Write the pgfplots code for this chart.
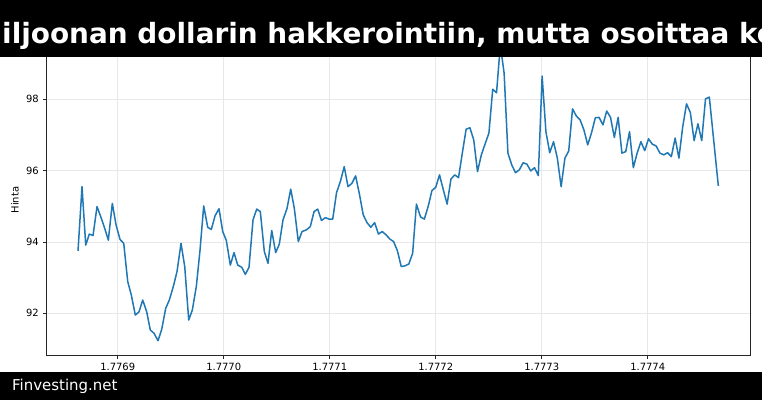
\documentclass[border=0pt]{standalone}
\usepackage{fontspec}
\setmainfont{DejaVu Sans}
\usepackage{pgfplots}
\usepackage{pgfplotstable}
\pgfplotsset{compat=1.18}
\definecolor{mplblue}{HTML}{1F77B4}
\definecolor{gridgray}{HTML}{E8E8E8}
\pgfplotstableread{
x y
-0.3745 93.75
-0.3368 95.55
-0.3019 93.91
-0.2679 94.22
-0.2330 94.18
-0.1953 94.99
-0.1604 94.71
-0.1226 94.38
-0.0887 94.05
-0.0509 95.08
-0.0160 94.48
0.0217 94.07
0.0566 93.96
0.0943 92.89
0.1283 92.51
0.1660 91.95
0.2009 92.04
0.2358 92.37
0.2736 92.04
0.3075 91.53
0.3425 91.44
0.3802 91.23
0.4151 91.55
0.4528 92.14
0.4868 92.37
0.5245 92.75
0.5594 93.17
0.5972 93.96
0.6321 93.31
0.6698 91.81
0.7038 92.09
0.7415 92.75
0.7764 93.77
0.8113 95.01
0.8491 94.41
0.8830 94.35
0.9179 94.73
0.9557 94.93
0.9906 94.29
1.0245 94.04
1.0623 93.35
1.0972 93.70
1.1321 93.35
1.1698 93.29
1.2038 93.09
1.2387 93.29
1.2764 94.62
1.3113 94.92
1.3453 94.85
1.3830 93.73
1.4179 93.40
1.4528 94.32
1.4906 93.70
1.5245 93.94
1.5594 94.62
1.5972 94.94
1.6321 95.48
1.6660 94.94
1.7038 94.01
1.7387 94.29
1.7811 94.34
1.8170 94.43
1.8519 94.85
1.8868 94.92
1.9226 94.60
1.9585 94.68
1.9934 94.64
2.0283 94.64
2.0642 95.38
2.1000 95.69
2.1368 96.11
2.1726 95.55
2.2085 95.64
2.2443 95.85
2.2802 95.34
2.3160 94.76
2.3519 94.54
2.3877 94.41
2.4236 94.54
2.4594 94.22
2.4953 94.29
2.5311 94.20
2.5670 94.08
2.6028 94.01
2.6387 93.75
2.6745 93.31
2.7104 93.33
2.7462 93.38
2.7821 93.68
2.8179 95.06
2.8566 94.70
2.8925 94.64
2.9283 94.99
2.9642 95.44
3.0000 95.53
3.0358 95.88
3.0717 95.46
3.1075 95.06
3.1434 95.76
3.1792 95.88
3.2151 95.80
3.2509 96.49
3.2868 97.16
3.3226 97.20
3.3585 96.86
3.3943 95.97
3.4302 96.44
3.4660 96.75
3.5019 97.05
3.5377 98.28
3.5736 98.18
3.6094 99.52
3.6453 98.73
3.6811 96.49
3.7170 96.16
3.7528 95.94
3.7887 96.02
3.8245 96.22
3.8604 96.18
3.8962 95.99
3.9321 96.08
3.9679 95.86
4.0038 98.65
4.0396 97.09
4.0755 96.50
4.1113 96.81
4.1472 96.35
4.1830 95.55
4.2189 96.35
4.2547 96.55
4.2906 97.73
4.3264 97.53
4.3623 97.42
4.3981 97.14
4.4340 96.72
4.4698 97.06
4.5057 97.48
4.5415 97.49
4.5774 97.28
4.6132 97.67
4.6491 97.49
4.6849 96.93
4.7208 97.49
4.7566 96.49
4.7925 96.53
4.8283 97.09
4.8642 96.08
4.9000 96.49
4.9358 96.81
4.9717 96.56
5.0075 96.89
5.0434 96.74
5.0792 96.69
5.1151 96.49
5.1509 96.44
5.1868 96.50
5.2226 96.39
5.2585 96.91
5.2943 96.35
5.3302 97.23
5.3660 97.87
5.4019 97.63
5.4377 96.84
5.4736 97.31
5.5094 96.84
5.5453 98.01
5.5811 98.06
5.6660 95.57
}\pricedata
\begin{document}
\begin{tikzpicture}[x=1bp,y=1bp]
\useasboundingbox (0,0) rectangle (762,400);
\fill[white] (0,0) rectangle (762,400);
\begin{axis}[
  at={(46.7bp,45bp)}, anchor=south west,
  scale only axis, width=703.3bp, height=305bp,
  xmin=-0.670, xmax=5.965, ymin=90.83, ymax=99.38,
  xtick={0,1,2,3,4,5},
  xticklabels={1.7769,1.7770,1.7771,1.7772,1.7773,1.7774},
  ytick={92,94,96,98},
  /pgf/number format/assume math mode=true,
  tick label style={font=\fontsize{10}{12}\selectfont, text=black},
  xticklabel style={yshift=-1.5bp},
  yticklabel style={xshift=-1bp},
  grid=major, major grid style={gridgray, line width=0.8bp},
  axis line style={black!85, line width=0.9bp},
  tick align=outside, major tick length=3.5bp,
  tick style={black!85, line width=0.8bp},
  xtick pos=bottom, ytick pos=left,
  clip=true,
]
\addplot[mplblue, line width=1.5bp, line join=round] table[x=x,y=y] {\pricedata};
\end{axis}
\node[rotate=90, font=\fontsize{10}{12}\selectfont, text=black] at (15,200) {Hinta};
\fill[black] (0,343.3) rectangle (762,400);
\node[anchor=base west, inner sep=0, text=white, font=\fontsize{28}{33}\selectfont\bfseries] at (2,356.5) {iljoonan dollarin hakkerointiin, mutta osoittaa ke};
\fill[black] (0,0) rectangle (762,28.3);
\node[anchor=base west, inner sep=0, text=white, font=\fontsize{15}{18}\selectfont] at (12,10) {Finvesting.net};
\end{tikzpicture}
\end{document}
